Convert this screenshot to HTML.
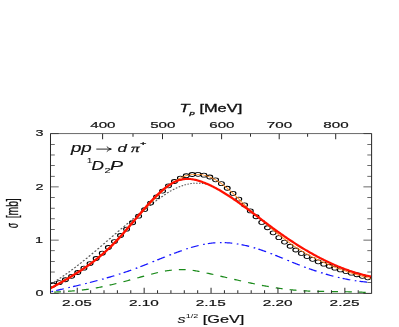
<!DOCTYPE html><html><head><meta charset="utf-8"><style>html,body{margin:0;padding:0;background:#fff;width:399px;height:327px;overflow:hidden}</style></head><body><svg width="399" height="327" viewBox="0 0 399 327" style="position:absolute;left:0;top:0">
<rect width="399" height="327" fill="#fff"/>
<clipPath id="c"><rect x="34.827586206896555" y="133.3" width="221.44827586206898" height="159.59999999999997"/></clipPath>
<g transform="translate(0,0.4) scale(1.45,1)"><g clip-path="url(#c)" fill="none" transform="translate(0,-0.2)">
<path d="M35.241,283.52 L35.759,283.08 L36.276,282.64 M37.241,281.80 L37.759,281.35 L38.276,280.88 M39.241,280.01 L39.759,279.53 L40.276,279.05 M41.241,278.14 L41.759,277.65 L42.276,277.15 M43.241,276.21 L43.759,275.70 L44.276,275.18 M45.241,274.21 L45.759,273.68 L46.276,273.15 M47.241,272.15 L47.759,271.61 L48.276,271.06 M49.241,270.04 L49.759,269.48 L50.276,268.92 M51.241,267.87 L51.759,267.30 L52.276,266.72 M53.241,265.65 L53.759,265.07 L54.276,264.48 M55.241,263.38 L55.759,262.79 L56.276,262.20 M57.241,261.08 L57.759,260.48 L58.276,259.87 M59.241,258.74 L59.759,258.12 L60.276,257.51 M61.241,256.36 L61.759,255.74 L62.276,255.12 M63.241,253.95 L63.759,253.33 L64.276,252.70 M65.241,251.52 L65.759,250.89 L66.276,250.25 M67.241,249.07 L67.759,248.43 L68.276,247.79 M69.241,246.60 L69.759,245.95 L70.276,245.31 M71.241,244.11 L71.759,243.46 L72.276,242.82 M73.241,241.61 L73.759,240.96 L74.276,240.32 M75.241,239.11 L75.759,238.46 L76.276,237.81 M77.241,236.60 L77.759,235.95 L78.276,235.31 M79.241,234.10 L79.759,233.45 L80.276,232.80 M81.241,231.60 L81.759,230.95 L82.276,230.31 M83.241,229.11 L83.759,228.46 L84.276,227.82 M85.241,226.63 L85.759,225.99 L86.276,225.35 M87.241,224.17 L87.759,223.53 L88.276,222.90 M89.241,221.72 L89.759,221.10 L90.276,220.47 M91.241,219.31 L91.759,218.69 L92.276,218.07 M93.241,216.92 L93.759,216.31 L94.276,215.70 M95.241,214.56 L95.759,213.96 L96.276,213.35 M97.241,212.23 L97.759,211.64 L98.276,211.04 M99.241,209.94 L99.759,209.35 L100.276,208.76 M101.241,207.67 L101.759,207.09 L102.276,206.51 M103.241,205.44 L103.759,204.87 L104.276,204.30 M105.241,203.24 L105.759,202.68 L106.276,202.12 M107.241,201.08 L107.759,200.53 L108.276,199.98 M109.241,198.95 L109.759,198.41 L110.276,197.87 M111.241,196.87 L111.759,196.35 L112.276,195.82 M113.241,194.87 L113.759,194.36 L114.276,193.87 M115.241,192.96 L115.759,192.49 L116.276,192.03 M117.241,191.19 L117.759,190.76 L118.276,190.34 M119.241,189.58 L119.759,189.19 L120.276,188.81 M121.241,188.13 L121.759,187.79 L122.276,187.45 M123.241,186.86 L123.759,186.56 L124.276,186.27 M125.241,185.76 L125.759,185.50 L126.276,185.25 M127.241,184.83 L127.759,184.62 L128.276,184.42 M129.241,184.09 L129.759,183.92 L130.276,183.77 M131.241,183.53 L131.759,183.41 L132.276,183.31 M133.241,183.16 L133.759,183.09 L134.276,183.04 M135.241,182.98 L135.759,182.96 L136.276,182.96 M137.241,182.99 L137.759,183.03 L138.276,183.08 M139.241,183.21 L139.759,183.30 L140.276,183.40 M141.241,183.63 L141.759,183.77 L142.276,183.93" stroke="#5a5a5a" stroke-width="1.0"/>
<circle cx="36.561" cy="284.80" r="2.0" stroke="#000" stroke-width="0.8" fill="none"/>
<circle cx="40.842" cy="282.45" r="2.0" stroke="#000" stroke-width="0.8" fill="none"/>
<circle cx="45.114" cy="279.57" r="2.0" stroke="#000" stroke-width="0.8" fill="none"/>
<circle cx="49.376" cy="276.17" r="2.0" stroke="#000" stroke-width="0.8" fill="none"/>
<circle cx="53.628" cy="272.31" r="2.0" stroke="#000" stroke-width="0.8" fill="none"/>
<circle cx="57.870" cy="268.02" r="2.0" stroke="#000" stroke-width="0.8" fill="none"/>
<circle cx="62.102" cy="263.34" r="2.0" stroke="#000" stroke-width="0.8" fill="none"/>
<circle cx="66.324" cy="258.30" r="2.0" stroke="#000" stroke-width="0.8" fill="none"/>
<circle cx="70.536" cy="252.94" r="2.0" stroke="#000" stroke-width="0.8" fill="none"/>
<circle cx="74.739" cy="247.29" r="2.0" stroke="#000" stroke-width="0.8" fill="none"/>
<circle cx="78.931" cy="241.39" r="2.0" stroke="#000" stroke-width="0.8" fill="none"/>
<circle cx="83.114" cy="235.28" r="2.0" stroke="#000" stroke-width="0.8" fill="none"/>
<circle cx="87.286" cy="228.99" r="2.0" stroke="#000" stroke-width="0.8" fill="none"/>
<circle cx="91.449" cy="222.54" r="2.0" stroke="#000" stroke-width="0.8" fill="none"/>
<circle cx="95.602" cy="215.99" r="2.0" stroke="#000" stroke-width="0.8" fill="none"/>
<circle cx="99.745" cy="209.37" r="2.0" stroke="#000" stroke-width="0.8" fill="none"/>
<circle cx="103.878" cy="202.86" r="2.0" stroke="#000" stroke-width="0.8" fill="none"/>
<circle cx="108.001" cy="196.62" r="2.0" stroke="#000" stroke-width="0.8" fill="none"/>
<circle cx="112.115" cy="190.83" r="2.0" stroke="#000" stroke-width="0.8" fill="none"/>
<circle cx="116.218" cy="185.67" r="2.0" stroke="#000" stroke-width="0.8" fill="none"/>
<circle cx="120.312" cy="181.29" r="2.0" stroke="#000" stroke-width="0.8" fill="none"/>
<circle cx="124.396" cy="177.86" r="2.0" stroke="#000" stroke-width="0.8" fill="none"/>
<circle cx="128.469" cy="175.53" r="2.0" stroke="#000" stroke-width="0.8" fill="none"/>
<circle cx="132.533" cy="174.28" r="2.0" stroke="#000" stroke-width="0.8" fill="none"/>
<circle cx="136.587" cy="174.10" r="2.0" stroke="#000" stroke-width="0.8" fill="none"/>
<circle cx="140.631" cy="174.95" r="2.0" stroke="#000" stroke-width="0.8" fill="none"/>
<circle cx="144.665" cy="176.82" r="2.0" stroke="#000" stroke-width="0.8" fill="none"/>
<circle cx="148.690" cy="179.67" r="2.0" stroke="#000" stroke-width="0.8" fill="none"/>
<circle cx="152.704" cy="183.46" r="2.0" stroke="#000" stroke-width="0.8" fill="none"/>
<circle cx="156.709" cy="188.04" r="2.0" stroke="#000" stroke-width="0.8" fill="none"/>
<circle cx="160.703" cy="193.23" r="2.0" stroke="#000" stroke-width="0.8" fill="none"/>
<circle cx="164.688" cy="198.85" r="2.0" stroke="#000" stroke-width="0.8" fill="none"/>
<circle cx="168.663" cy="204.73" r="2.0" stroke="#000" stroke-width="0.8" fill="none"/>
<circle cx="172.628" cy="210.69" r="2.0" stroke="#000" stroke-width="0.8" fill="none"/>
<circle cx="176.583" cy="216.55" r="2.0" stroke="#000" stroke-width="0.8" fill="none"/>
<circle cx="180.528" cy="222.19" r="2.0" stroke="#000" stroke-width="0.8" fill="none"/>
<circle cx="184.463" cy="227.56" r="2.0" stroke="#000" stroke-width="0.8" fill="none"/>
<circle cx="188.389" cy="232.65" r="2.0" stroke="#000" stroke-width="0.8" fill="none"/>
<circle cx="192.304" cy="237.43" r="2.0" stroke="#000" stroke-width="0.8" fill="none"/>
<circle cx="196.210" cy="241.90" r="2.0" stroke="#000" stroke-width="0.8" fill="none"/>
<circle cx="200.106" cy="246.03" r="2.0" stroke="#000" stroke-width="0.8" fill="none"/>
<circle cx="203.991" cy="249.81" r="2.0" stroke="#000" stroke-width="0.8" fill="none"/>
<circle cx="207.867" cy="253.24" r="2.0" stroke="#000" stroke-width="0.8" fill="none"/>
<circle cx="211.733" cy="256.33" r="2.0" stroke="#000" stroke-width="0.8" fill="none"/>
<circle cx="215.589" cy="259.12" r="2.0" stroke="#000" stroke-width="0.8" fill="none"/>
<circle cx="219.436" cy="261.65" r="2.0" stroke="#000" stroke-width="0.8" fill="none"/>
<circle cx="223.272" cy="263.94" r="2.0" stroke="#000" stroke-width="0.8" fill="none"/>
<circle cx="227.098" cy="266.03" r="2.0" stroke="#000" stroke-width="0.8" fill="none"/>
<circle cx="230.915" cy="267.96" r="2.0" stroke="#000" stroke-width="0.8" fill="none"/>
<circle cx="234.722" cy="269.74" r="2.0" stroke="#000" stroke-width="0.8" fill="none"/>
<circle cx="238.518" cy="271.42" r="2.0" stroke="#000" stroke-width="0.8" fill="none"/>
<circle cx="242.305" cy="273.01" r="2.0" stroke="#000" stroke-width="0.8" fill="none"/>
<circle cx="246.082" cy="274.56" r="2.0" stroke="#000" stroke-width="0.8" fill="none"/>
<circle cx="249.849" cy="276.09" r="2.0" stroke="#000" stroke-width="0.8" fill="none"/>
<circle cx="253.607" cy="277.63" r="2.0" stroke="#000" stroke-width="0.8" fill="none"/>
<path d="M34.828,287.46 L35.383,287.01 L35.938,286.57 L36.493,286.12 L37.048,285.67 L37.603,285.22 L38.158,284.77 L38.713,284.32 L39.268,283.87 L39.823,283.42 L40.378,282.97 L40.933,282.52 L41.488,282.06 L42.043,281.61 L42.598,281.15 L43.153,280.69 L43.708,280.23 L44.263,279.77 L44.818,279.31 L45.373,278.84 L45.928,278.37 L46.483,277.90 L47.038,277.43 L47.593,276.96 L48.148,276.48 L48.703,276.00 L49.258,275.52 L49.813,275.03 L50.368,274.54 L50.923,274.05 L51.478,273.55 L52.033,273.05 L52.588,272.55 L53.143,272.04 L53.698,271.53 L54.253,271.02 L54.808,270.50 L55.363,269.97 L55.918,269.44 L56.473,268.91 L57.028,268.37 L57.583,267.83 L58.138,267.29 L58.693,266.73 L59.248,266.18 L59.803,265.61 L60.358,265.05 L60.913,264.47 L61.468,263.89 L62.023,263.31 L62.578,262.72 L63.133,262.12 L63.688,261.52 L64.243,260.91 L64.798,260.29 L65.353,259.67 L65.908,259.04 L66.463,258.41 L67.018,257.76 L67.573,257.12 L68.128,256.46 L68.683,255.79 L69.238,255.12 L69.793,254.44 L70.348,253.76 L70.903,253.06 L71.458,252.36 L72.013,251.65 L72.568,250.93 L73.123,250.20 L73.678,249.47 L74.233,248.72 L74.788,247.97 L75.343,247.21 L75.898,246.44 L76.453,245.66 L77.008,244.87 L77.563,244.07 L78.118,243.26 L78.673,242.45 L79.228,241.62 L79.783,240.78 L80.338,239.94 L80.893,239.08 L81.448,238.22 L82.003,237.35 L82.558,236.47 L83.113,235.58 L83.668,234.68 L84.223,233.78 L84.778,232.87 L85.333,231.96 L85.888,231.04 L86.443,230.10 L86.998,229.15 L87.553,228.21 L88.108,227.28 L88.663,226.35 L89.218,225.44 L89.773,224.54 L90.328,223.65 L90.883,222.78 L91.438,221.91 L91.993,221.06 L92.548,220.22 L93.103,219.39 L93.658,218.57 L94.213,217.76 L94.768,216.96 L95.323,216.18 L95.878,215.40 L96.433,214.64 L96.989,213.78 L97.544,212.89 L98.099,212.00 L98.654,211.12 L99.209,210.23 L99.764,209.35 L100.319,208.46 L100.874,207.58 L101.429,206.70 L101.984,205.83 L102.539,204.95 L103.094,204.08 L103.649,203.22 L104.204,202.36 L104.759,201.50 L105.314,200.65 L105.869,199.81 L106.424,198.97 L106.979,198.14 L107.534,197.31 L108.089,196.50 L108.644,195.69 L109.199,194.89 L109.754,194.09 L110.309,193.31 L110.864,192.54 L111.419,191.78 L111.974,191.02 L112.529,190.28 L113.084,189.55 L113.639,188.84 L114.194,188.13 L114.749,187.44 L115.304,186.76 L115.859,186.09 L116.414,185.44 L116.969,184.80 L117.524,184.18 L118.079,183.57 L118.634,182.98 L119.189,182.40 L119.744,181.84 L120.299,181.30 L120.854,180.78 L121.409,180.27 L121.964,179.78 L122.519,179.31 L123.074,178.86 L123.629,178.43 L124.184,178.02 L124.739,177.63 L125.294,177.25 L125.849,176.90 L126.404,176.58 L126.959,176.27 L127.514,175.98 L128.069,175.71 L128.624,175.46 L129.179,175.23 L129.734,175.02 L130.289,174.84 L130.844,174.67 L131.399,174.52 L131.954,174.39 L132.509,174.29 L133.064,174.20 L133.619,174.13 L134.174,174.08 L134.729,174.05 L135.284,174.04 L135.839,174.05 L136.394,174.08 L136.949,174.13 L137.504,174.20 L138.059,174.29 L138.614,174.40 L139.169,174.53 L139.724,174.67 L140.279,174.84 L140.834,175.02 L141.389,175.23 L141.944,175.45 L142.499,175.69 L143.054,175.95 L143.609,176.23 L144.164,176.53 L144.719,176.85 L145.274,177.19 L145.829,177.54 L146.384,177.92 L146.939,178.31 L147.494,178.72 L148.049,179.15 L148.604,179.60 L149.159,180.07 L149.714,180.55 L150.269,181.05 L150.824,181.58 L151.379,182.11 L151.934,182.67 L152.489,183.24 L153.044,183.82 L153.599,184.42 L154.154,185.04 L154.709,185.67 L155.264,186.31 L155.819,186.97 L156.374,187.63 L156.929,188.31 L157.484,189.01 L158.039,189.71 L158.594,190.43 L159.149,191.15 L159.704,191.89 L160.259,192.63 L160.814,193.38 L161.369,194.15 L161.924,194.92 L162.479,195.69 L163.034,196.48 L163.589,197.27 L164.144,198.07 L164.700,198.87 L165.255,199.68 L165.810,200.49 L166.365,201.31 L166.920,202.13 L167.475,202.95 L168.030,203.78 L168.585,204.61 L169.140,205.44 L169.695,206.28 L170.250,207.11 L170.805,207.95 L171.360,208.67 L171.915,209.33 L172.470,209.98 L173.025,210.63 L173.580,211.28 L174.135,211.93 L174.690,212.57 L175.245,213.21 L175.800,213.85 L176.355,214.48 L176.910,215.19 L177.465,215.93 L178.020,216.66 L178.575,217.40 L179.130,218.12 L179.685,218.84 L180.240,219.56 L180.795,220.27 L181.350,220.98 L181.905,221.68 L182.460,222.38 L183.015,223.07 L183.570,223.76 L184.125,224.48 L184.680,225.20 L185.235,225.92 L185.790,226.62 L186.345,227.33 L186.900,228.02 L187.455,228.71 L188.010,229.40 L188.565,230.08 L189.120,230.75 L189.675,231.42 L190.230,232.08 L190.785,232.73 L191.340,233.38 L191.895,234.03 L192.450,234.66 L193.005,235.29 L193.560,235.92 L194.115,236.54 L194.670,237.15 L195.225,237.76 L195.780,238.35 L196.335,238.95 L196.890,239.56 L197.445,240.18 L198.000,240.79 L198.555,241.40 L199.110,242.00 L199.665,242.60 L200.220,243.18 L200.775,243.76 L201.330,244.34 L201.885,244.90 L202.440,245.46 L202.995,246.01 L203.550,246.56 L204.105,247.09 L204.660,247.62 L205.215,248.14 L205.770,248.66 L206.325,249.17 L206.880,249.67 L207.435,250.16 L207.990,250.65 L208.545,251.13 L209.100,251.61 L209.655,252.08 L210.210,252.54 L210.765,253.01 L211.320,253.48 L211.875,253.94 L212.430,254.40 L212.985,254.85 L213.540,255.30 L214.095,255.74 L214.650,256.18 L215.205,256.60 L215.760,257.03 L216.315,257.45 L216.870,257.86 L217.425,258.27 L217.980,258.67 L218.535,259.07 L219.090,259.46 L219.645,259.85 L220.200,260.23 L220.755,260.61 L221.310,260.99 L221.865,261.36 L222.420,261.72 L222.975,262.08 L223.530,262.44 L224.085,262.80 L224.640,263.16 L225.195,263.53 L225.750,263.89 L226.305,264.24 L226.860,264.60 L227.415,264.95 L227.970,265.29 L228.525,265.64 L229.080,265.98 L229.635,266.31 L230.190,266.65 L230.745,266.98 L231.300,267.30 L231.856,267.63 L232.411,267.95 L232.966,268.27 L233.521,268.59 L234.076,268.90 L234.631,269.21 L235.186,269.48 L235.741,269.76 L236.296,270.03 L236.851,270.30 L237.406,270.57 L237.961,270.84 L238.516,271.11 L239.071,271.37 L239.626,271.64 L240.181,271.90 L240.736,272.16 L241.291,272.42 L241.846,272.68 L242.401,272.93 L242.956,273.19 L243.511,273.45 L244.066,273.70 L244.621,273.95 L245.176,274.19 L245.731,274.42 L246.286,274.64 L246.841,274.87 L247.396,275.09 L247.951,275.32 L248.506,275.54 L249.061,275.77 L249.616,275.99 L250.171,276.22 L250.726,276.44 L251.281,276.67 L251.836,276.90 L252.391,277.12 L252.946,277.35 L253.501,277.58 L254.056,277.81 L254.611,278.04 L255.166,278.27 L255.721,278.51 L256.276,278.74" stroke="#ff8418" stroke-width="0.7"/>
<path transform="scale(0.8275862068965517,1)" d="M42.083,288.16 L42.754,287.71 L43.425,287.27 L44.095,286.82 L44.766,286.37 L45.437,285.92 L46.107,285.47 L46.778,285.02 L47.448,284.57 L48.119,284.12 L48.790,283.67 L49.460,283.22 L50.131,282.76 L50.802,282.31 L51.472,281.85 L52.143,281.39 L52.813,280.93 L53.484,280.47 L54.155,280.01 L54.825,279.54 L55.496,279.07 L56.167,278.60 L56.837,278.13 L57.508,277.66 L58.179,277.18 L58.849,276.70 L59.520,276.22 L60.190,275.73 L60.861,275.24 L61.532,274.75 L62.202,274.25 L62.873,273.75 L63.544,273.25 L64.214,272.74 L64.885,272.23 L65.556,271.72 L66.226,271.20 L66.897,270.67 L67.567,270.14 L68.238,269.61 L68.909,269.07 L69.579,268.53 L70.250,267.99 L70.921,267.43 L71.591,266.88 L72.262,266.31 L72.933,265.75 L73.603,265.17 L74.274,264.59 L74.944,264.01 L75.615,263.42 L76.286,262.82 L76.956,262.22 L77.627,261.61 L78.298,260.99 L78.968,260.37 L79.639,259.74 L80.310,259.11 L80.980,258.46 L81.651,257.82 L82.321,257.16 L82.992,256.49 L83.663,255.82 L84.333,255.14 L85.004,254.46 L85.675,253.76 L86.345,253.06 L87.016,252.35 L87.687,251.63 L88.357,250.90 L89.028,250.17 L89.698,249.42 L90.369,248.67 L91.040,247.91 L91.710,247.14 L92.381,246.36 L93.052,245.57 L93.722,244.77 L94.393,243.96 L95.063,243.15 L95.734,242.32 L96.405,241.48 L97.075,240.64 L97.746,239.78 L98.417,238.92 L99.087,238.05 L99.758,237.17 L100.429,236.28 L101.099,235.38 L101.770,234.48 L102.440,233.57 L103.111,232.66 L103.782,231.74 L104.452,230.82 L105.123,229.89 L105.794,228.96 L106.464,228.02 L107.135,227.08 L107.806,226.14 L108.476,225.20 L109.147,224.25 L109.817,223.30 L110.488,222.35 L111.159,221.40 L111.829,220.45 L112.500,219.50 L113.171,218.55 L113.841,217.60 L114.512,216.65 L115.183,215.70 L115.853,214.76 L116.524,213.82 L117.194,212.88 L117.865,211.94 L118.536,211.01 L119.206,210.08 L119.877,209.16 L120.548,208.24 L121.218,207.32 L121.889,206.42 L122.560,205.52 L123.230,204.62 L123.901,203.74 L124.571,202.86 L125.242,201.98 L125.913,201.12 L126.583,200.27 L127.254,199.42 L127.925,198.58 L128.595,197.76 L129.266,196.94 L129.937,196.14 L130.607,195.35 L131.278,194.56 L131.948,193.80 L132.619,193.04 L133.290,192.30 L133.960,191.57 L134.631,190.86 L135.302,190.16 L135.972,189.48 L136.643,188.82 L137.313,188.17 L137.984,187.54 L138.655,186.92 L139.325,186.33 L139.996,185.75 L140.667,185.19 L141.337,184.66 L142.008,184.14 L142.679,183.64 L143.349,183.17 L144.020,182.71 L144.690,182.28 L145.361,181.87 L146.032,181.49 L146.702,181.13 L147.373,180.79 L148.044,180.48 L148.714,180.19 L149.385,179.93 L150.056,179.70 L150.726,179.49 L151.397,179.31 L152.067,179.15 L152.738,179.02 L153.409,178.92 L154.079,178.83 L154.750,178.78 L155.421,178.74 L156.091,178.73 L156.762,178.73 L157.433,178.76 L158.103,178.81 L158.774,178.88 L159.444,178.97 L160.115,179.08 L160.786,179.20 L161.456,179.35 L162.127,179.51 L162.798,179.68 L163.468,179.87 L164.139,180.08 L164.810,180.30 L165.480,180.53 L166.151,180.78 L166.821,181.04 L167.492,181.31 L168.163,181.60 L168.833,181.89 L169.504,182.20 L170.175,182.51 L170.845,182.83 L171.516,183.17 L172.187,183.51 L172.857,183.85 L173.528,184.21 L174.198,184.58 L174.869,184.95 L175.540,185.33 L176.210,185.71 L176.881,186.11 L177.552,186.51 L178.222,186.92 L178.893,187.34 L179.563,187.76 L180.234,188.19 L180.905,188.63 L181.575,189.07 L182.246,189.52 L182.917,189.98 L183.587,190.44 L184.258,190.91 L184.929,191.38 L185.599,191.86 L186.270,192.35 L186.940,192.84 L187.611,193.34 L188.282,193.84 L188.952,194.35 L189.623,194.86 L190.294,195.38 L190.964,195.90 L191.635,196.43 L192.306,196.96 L192.976,197.49 L193.647,198.03 L194.317,198.58 L194.988,199.13 L195.659,199.68 L196.329,200.23 L197.000,200.79 L197.671,201.36 L198.341,201.92 L199.012,202.49 L199.683,203.07 L200.353,203.64 L201.024,204.22 L201.694,204.80 L202.365,205.39 L203.036,205.97 L203.706,206.56 L204.377,207.15 L205.048,207.75 L205.718,208.34 L206.389,208.94 L207.060,209.54 L207.730,210.14 L208.401,210.74 L209.071,211.35 L209.742,211.95 L210.413,212.56 L211.083,213.17 L211.754,213.78 L212.425,214.38 L213.095,214.99 L213.766,215.60 L214.437,216.22 L215.107,216.83 L215.778,217.44 L216.448,218.05 L217.119,218.66 L217.790,219.27 L218.460,219.88 L219.131,220.49 L219.802,221.10 L220.472,221.71 L221.143,222.32 L221.813,222.92 L222.484,223.53 L223.155,224.13 L223.825,224.73 L224.496,225.34 L225.167,225.94 L225.837,226.53 L226.508,227.13 L227.179,227.72 L227.849,228.32 L228.520,228.91 L229.190,229.49 L229.861,230.08 L230.532,230.66 L231.202,231.24 L231.873,231.82 L232.544,232.39 L233.214,232.96 L233.885,233.53 L234.556,234.10 L235.226,234.66 L235.897,235.22 L236.567,235.78 L237.238,236.34 L237.909,236.89 L238.579,237.44 L239.250,237.99 L239.921,238.54 L240.591,239.08 L241.262,239.62 L241.933,240.15 L242.603,240.69 L243.274,241.22 L243.944,241.74 L244.615,242.27 L245.286,242.79 L245.956,243.31 L246.627,243.83 L247.298,244.34 L247.968,244.85 L248.639,245.36 L249.310,245.86 L249.980,246.36 L250.651,246.86 L251.321,247.35 L251.992,247.85 L252.663,248.33 L253.333,248.82 L254.004,249.30 L254.675,249.78 L255.345,250.26 L256.016,250.73 L256.687,251.20 L257.357,251.66 L258.028,252.13 L258.698,252.59 L259.369,253.04 L260.040,253.49 L260.710,253.94 L261.381,254.39 L262.052,254.83 L262.722,255.27 L263.393,255.71 L264.063,256.14 L264.734,256.57 L265.405,256.99 L266.075,257.42 L266.746,257.84 L267.417,258.25 L268.087,258.66 L268.758,259.07 L269.429,259.47 L270.099,259.87 L270.770,260.27 L271.440,260.66 L272.111,261.05 L272.782,261.44 L273.452,261.82 L274.123,262.20 L274.794,262.58 L275.464,262.95 L276.135,263.31 L276.806,263.68 L277.476,264.04 L278.147,264.39 L278.817,264.75 L279.488,265.09 L280.159,265.44 L280.829,265.78 L281.500,266.12 L282.171,266.45 L282.841,266.78 L283.512,267.10 L284.183,267.42 L284.853,267.74 L285.524,268.05 L286.194,268.36 L286.865,268.67 L287.536,268.97 L288.206,269.26 L288.877,269.55 L289.548,269.84 L290.218,270.13 L290.889,270.41 L291.560,270.68 L292.230,270.95 L292.901,271.22 L293.571,271.48 L294.242,271.74 L294.913,272.00 L295.583,272.25 L296.254,272.49 L296.925,272.74 L297.595,272.97 L298.266,273.21 L298.937,273.43 L299.607,273.66 L300.278,273.88 L300.948,274.09 L301.619,274.30 L302.290,274.51 L302.960,274.71 L303.631,274.91 L304.302,275.10 L304.972,275.29 L305.643,275.47 L306.313,275.65 L306.984,275.83 L307.655,276.00 L308.325,276.16 L308.996,276.32 L309.667,276.48" stroke="#ff1000" stroke-width="2.1" stroke-linejoin="round"/>
<path d="M35.483,291.38 L36.034,291.20 L36.586,291.02 M38.759,290.30 L39.414,290.09 L40.069,289.87 L40.724,289.65 L41.379,289.44 L42.034,289.22 L42.690,289.00 L43.345,288.78 L44.000,288.57 M47.103,287.53 L47.655,287.34 L48.207,287.16 M50.379,286.42 L51.034,286.20 L51.690,285.97 L52.345,285.75 L53.000,285.52 L53.655,285.30 L54.310,285.07 L54.966,284.84 L55.621,284.61 M58.724,283.50 L59.276,283.31 L59.828,283.11 M62.000,282.31 L62.655,282.07 L63.310,281.82 L63.966,281.57 L64.621,281.33 L65.276,281.08 L65.931,280.83 L66.586,280.57 L67.241,280.32 M70.345,279.09 L70.897,278.87 L71.448,278.64 M73.621,277.75 L74.276,277.47 L74.931,277.20 L75.586,276.92 L76.241,276.64 L76.897,276.35 L77.552,276.07 L78.207,275.78 L78.862,275.49 M81.966,274.08 L82.517,273.82 L83.069,273.56 M85.241,272.52 L85.897,272.21 L86.552,271.88 L87.207,271.56 L87.862,271.23 L88.517,270.90 L89.172,270.57 L89.828,270.23 L90.483,269.89 M93.586,268.25 L94.138,267.95 L94.690,267.65 M96.862,266.45 L97.517,266.08 L98.172,265.72 L98.828,265.35 L99.483,264.98 L100.138,264.60 L100.793,264.23 L101.448,263.86 L102.103,263.48 M105.207,261.69 L105.759,261.37 L106.310,261.05 M108.483,259.79 L109.138,259.41 L109.793,259.03 L110.448,258.65 L111.103,258.27 L111.759,257.89 L112.414,257.51 L113.069,257.14 L113.724,256.76 M116.828,255.00 L117.379,254.69 L117.931,254.38 M120.103,253.18 L120.759,252.83 L121.414,252.47 L122.069,252.12 L122.724,251.77 L123.379,251.42 L124.034,251.08 L124.690,250.74 L125.345,250.40 M128.448,248.87 L129.000,248.60 L129.552,248.34 M131.724,247.36 L132.379,247.07 L133.034,246.80 L133.690,246.52 L134.345,246.26 L135.000,246.00 L135.655,245.75 L136.310,245.51 L136.966,245.27 M140.069,244.26 L140.621,244.10 L141.172,243.95 M143.345,243.41 L144.000,243.27 L144.655,243.14 L145.310,243.02 L145.966,242.91 L146.621,242.81 L147.276,242.72 L147.931,242.64 L148.586,242.57 M151.690,242.40 L152.241,242.39 L152.793,242.39 M154.966,242.45 L155.621,242.49 L156.276,242.54 L156.931,242.60 L157.586,242.67 L158.241,242.74 L158.897,242.83 L159.552,242.92 L160.207,243.03 M163.310,243.63 L163.862,243.76 L164.414,243.89 M166.586,244.47 L167.241,244.66 L167.897,244.85 L168.552,245.06 L169.207,245.27 L169.862,245.49 L170.517,245.72 L171.172,245.95 L171.828,246.19 M174.931,247.42 L175.483,247.66 L176.034,247.90 M178.207,248.88 L178.862,249.19 L179.517,249.50 L180.172,249.82 L180.828,250.15 L181.483,250.48 L182.138,250.81 L182.793,251.15 L183.448,251.50 M186.552,253.19 L187.103,253.50 L187.655,253.81 M189.828,255.06 L190.483,255.44 L191.138,255.82 L191.793,256.21 L192.448,256.60 L193.103,256.98 L193.759,257.37 L194.414,257.76 L195.069,258.16 M198.172,260.01 L198.724,260.34 L199.276,260.67 M201.448,261.96 L202.103,262.34 L202.759,262.73 L203.414,263.11 L204.069,263.49 L204.724,263.86 L205.379,264.24 L206.034,264.61 L206.690,264.98 M209.793,266.69 L210.345,266.98 L210.897,267.28 M213.069,268.42 L213.724,268.75 L214.379,269.09 L215.034,269.42 L215.690,269.74 L216.345,270.07 L217.000,270.39 L217.655,270.71 L218.310,271.02 M221.414,272.46 L221.966,272.71 L222.517,272.96 M224.690,273.90 L225.345,274.17 L226.000,274.45 L226.655,274.71 L227.310,274.98 L227.966,275.24 L228.621,275.50 L229.276,275.75 L229.931,276.00 M233.034,277.12 L233.586,277.31 L234.138,277.49 M236.310,278.20 L236.966,278.40 L237.621,278.60 L238.276,278.79 L238.931,278.98 L239.586,279.17 L240.241,279.35 L240.897,279.53 L241.552,279.70 M244.655,280.44 L245.207,280.57 L245.759,280.68 M247.931,281.11 L248.586,281.23 L249.241,281.35 L249.897,281.46 L250.552,281.56 L251.207,281.66 L251.862,281.75 L252.517,281.84 L253.172,281.92 M256.276,282.24 L256.276,282.24" stroke="#1414ff" stroke-width="1.2"/>
<path d="M37.379,291.91 L38.049,291.86 L38.719,291.80 L39.389,291.75 L40.059,291.70 L40.729,291.64 L41.399,291.59 L42.069,291.53 M46.931,291.09 L47.601,291.02 L48.271,290.95 L48.941,290.87 L49.611,290.80 L50.281,290.72 L50.951,290.64 L51.621,290.55 M56.483,289.84 L57.153,289.73 L57.823,289.61 L58.493,289.49 L59.163,289.36 L59.833,289.23 L60.502,289.10 L61.172,288.96 M66.034,287.80 L66.704,287.63 L67.374,287.45 L68.044,287.26 L68.714,287.07 L69.384,286.88 L70.054,286.69 L70.724,286.49 M75.586,284.95 L76.256,284.73 L76.926,284.50 L77.596,284.27 L78.266,284.04 L78.936,283.80 L79.606,283.57 L80.276,283.33 M85.138,281.53 L85.808,281.27 L86.478,281.02 L87.148,280.76 L87.818,280.50 L88.488,280.24 L89.158,279.98 L89.828,279.72 M94.690,277.79 L95.360,277.52 L96.030,277.25 L96.700,276.98 L97.369,276.71 L98.039,276.45 L98.709,276.18 L99.379,275.91 M104.241,274.02 L104.911,273.77 L105.581,273.52 L106.251,273.28 L106.921,273.04 L107.591,272.81 L108.261,272.58 L108.931,272.35 M113.793,270.91 L114.463,270.74 L115.133,270.58 L115.803,270.43 L116.473,270.28 L117.143,270.15 L117.813,270.02 L118.483,269.91 M123.345,269.38 L124.015,269.36 L124.685,269.35 L125.355,269.35 L126.025,269.36 L126.695,269.39 L127.365,269.43 L128.034,269.48 M132.897,270.20 L133.567,270.33 L134.236,270.48 L134.906,270.64 L135.576,270.80 L136.246,270.97 L136.916,271.14 L137.586,271.32 M142.448,272.78 L143.118,273.00 L143.788,273.21 L144.458,273.43 L145.128,273.65 L145.798,273.87 L146.468,274.09 L147.138,274.31 M152.000,275.94 L152.670,276.17 L153.340,276.40 L154.010,276.62 L154.680,276.85 L155.350,277.08 L156.020,277.30 L156.690,277.53 M161.552,279.17 L162.222,279.40 L162.892,279.62 L163.562,279.84 L164.232,280.07 L164.901,280.29 L165.571,280.51 L166.241,280.73 M171.103,282.30 L171.773,282.51 L172.443,282.72 L173.113,282.93 L173.783,283.14 L174.453,283.34 L175.123,283.55 L175.793,283.75 M180.655,285.16 L181.325,285.35 L181.995,285.53 L182.665,285.72 L183.335,285.90 L184.005,286.08 L184.675,286.25 L185.345,286.42 M190.207,287.60 L190.877,287.75 L191.547,287.90 L192.217,288.05 L192.887,288.19 L193.557,288.33 L194.227,288.46 L194.897,288.60 M199.759,289.46 L200.429,289.56 L201.099,289.66 L201.768,289.76 L202.438,289.85 L203.108,289.94 L203.778,290.02 L204.448,290.10 M209.310,290.59 L209.980,290.65 L210.650,290.70 L211.320,290.75 L211.990,290.79 L212.660,290.84 L213.330,290.88 L214.000,290.92 M218.862,291.14 L219.532,291.16 L220.202,291.18 L220.872,291.20 L221.542,291.22 L222.212,291.24 L222.882,291.26 L223.552,291.27 M228.414,291.36 L229.084,291.37 L229.754,291.38 L230.424,291.39 L231.094,291.40 L231.764,291.41 L232.433,291.42 L233.103,291.43 M237.966,291.51 L238.635,291.53 L239.305,291.55 L239.975,291.56 L240.645,291.58 L241.315,291.60 L241.985,291.62 L242.655,291.65 M247.517,291.87 L248.187,291.91 L248.857,291.95 L249.527,291.99 L250.197,292.04 L250.867,292.09 L251.537,292.14 L252.207,292.19" stroke="#1a8a1a" stroke-width="1.2"/>
</g>
<g stroke="#2a2a2a" stroke-width="0.7" fill="none">
<rect x="34.827586206896555" y="133.3" width="221.44827586206898" height="159.59999999999997"/>
<line x1="44.055" y1="292.9" x2="44.055" y2="289.9"/>
<line x1="53.282" y1="292.9" x2="53.282" y2="287.4"/>
<line x1="62.509" y1="292.9" x2="62.509" y2="289.9"/>
<line x1="71.736" y1="292.9" x2="71.736" y2="289.9"/>
<line x1="80.963" y1="292.9" x2="80.963" y2="289.9"/>
<line x1="90.190" y1="292.9" x2="90.190" y2="289.9"/>
<line x1="99.417" y1="292.9" x2="99.417" y2="287.4"/>
<line x1="108.644" y1="292.9" x2="108.644" y2="289.9"/>
<line x1="117.871" y1="292.9" x2="117.871" y2="289.9"/>
<line x1="127.098" y1="292.9" x2="127.098" y2="289.9"/>
<line x1="136.325" y1="292.9" x2="136.325" y2="289.9"/>
<line x1="145.552" y1="292.9" x2="145.552" y2="287.4"/>
<line x1="154.779" y1="292.9" x2="154.779" y2="289.9"/>
<line x1="164.006" y1="292.9" x2="164.006" y2="289.9"/>
<line x1="173.233" y1="292.9" x2="173.233" y2="289.9"/>
<line x1="182.460" y1="292.9" x2="182.460" y2="289.9"/>
<line x1="191.687" y1="292.9" x2="191.687" y2="287.4"/>
<line x1="200.914" y1="292.9" x2="200.914" y2="289.9"/>
<line x1="210.141" y1="292.9" x2="210.141" y2="289.9"/>
<line x1="219.368" y1="292.9" x2="219.368" y2="289.9"/>
<line x1="228.595" y1="292.9" x2="228.595" y2="289.9"/>
<line x1="237.822" y1="292.9" x2="237.822" y2="287.4"/>
<line x1="247.049" y1="292.9" x2="247.049" y2="289.9"/>
<line x1="70.759" y1="133.3" x2="70.759" y2="138.8"/>
<line x1="91.724" y1="133.3" x2="91.724" y2="136.3"/>
<line x1="112.069" y1="133.3" x2="112.069" y2="138.8"/>
<line x1="132.552" y1="133.3" x2="132.552" y2="136.3"/>
<line x1="152.828" y1="133.3" x2="152.828" y2="138.8"/>
<line x1="172.759" y1="133.3" x2="172.759" y2="136.3"/>
<line x1="192.552" y1="133.3" x2="192.552" y2="138.8"/>
<line x1="212.138" y1="133.3" x2="212.138" y2="136.3"/>
<line x1="231.517" y1="133.3" x2="231.517" y2="138.8"/>
<line x1="34.827586206896555" y1="292.90" x2="40.48275862068966" y2="292.90"/>
<line x1="256.2758620689655" y1="292.90" x2="250.62068965517244" y2="292.90"/>
<line x1="34.827586206896555" y1="282.26" x2="37.793103448275865" y2="282.26"/>
<line x1="256.2758620689655" y1="282.26" x2="253.31034482758622" y2="282.26"/>
<line x1="34.827586206896555" y1="271.62" x2="37.793103448275865" y2="271.62"/>
<line x1="256.2758620689655" y1="271.62" x2="253.31034482758622" y2="271.62"/>
<line x1="34.827586206896555" y1="260.98" x2="37.793103448275865" y2="260.98"/>
<line x1="256.2758620689655" y1="260.98" x2="253.31034482758622" y2="260.98"/>
<line x1="34.827586206896555" y1="250.34" x2="37.793103448275865" y2="250.34"/>
<line x1="256.2758620689655" y1="250.34" x2="253.31034482758622" y2="250.34"/>
<line x1="34.827586206896555" y1="239.70" x2="40.48275862068966" y2="239.70"/>
<line x1="256.2758620689655" y1="239.70" x2="250.62068965517244" y2="239.70"/>
<line x1="34.827586206896555" y1="229.06" x2="37.793103448275865" y2="229.06"/>
<line x1="256.2758620689655" y1="229.06" x2="253.31034482758622" y2="229.06"/>
<line x1="34.827586206896555" y1="218.42" x2="37.793103448275865" y2="218.42"/>
<line x1="256.2758620689655" y1="218.42" x2="253.31034482758622" y2="218.42"/>
<line x1="34.827586206896555" y1="207.78" x2="37.793103448275865" y2="207.78"/>
<line x1="256.2758620689655" y1="207.78" x2="253.31034482758622" y2="207.78"/>
<line x1="34.827586206896555" y1="197.14" x2="37.793103448275865" y2="197.14"/>
<line x1="256.2758620689655" y1="197.14" x2="253.31034482758622" y2="197.14"/>
<line x1="34.827586206896555" y1="186.50" x2="40.48275862068966" y2="186.50"/>
<line x1="256.2758620689655" y1="186.50" x2="250.62068965517244" y2="186.50"/>
<line x1="34.827586206896555" y1="175.86" x2="37.793103448275865" y2="175.86"/>
<line x1="256.2758620689655" y1="175.86" x2="253.31034482758622" y2="175.86"/>
<line x1="34.827586206896555" y1="165.22" x2="37.793103448275865" y2="165.22"/>
<line x1="256.2758620689655" y1="165.22" x2="253.31034482758622" y2="165.22"/>
<line x1="34.827586206896555" y1="154.58" x2="37.793103448275865" y2="154.58"/>
<line x1="256.2758620689655" y1="154.58" x2="253.31034482758622" y2="154.58"/>
<line x1="34.827586206896555" y1="143.94" x2="37.793103448275865" y2="143.94"/>
<line x1="256.2758620689655" y1="143.94" x2="253.31034482758622" y2="143.94"/>
<line x1="34.827586206896555" y1="133.30" x2="40.48275862068966" y2="133.30"/>
<line x1="256.2758620689655" y1="133.30" x2="250.62068965517244" y2="133.30"/>
</g></g>
<g opacity="0.999">
<text transform="translate(76.95833333333336,306.0) scale(1.6,1)" font-family="Liberation Sans, sans-serif" font-size="9.6" text-anchor="middle" fill="#111" stroke="#111" stroke-width="0.2" >2.05</text>
<text transform="translate(143.85416666666703,306.0) scale(1.6,1)" font-family="Liberation Sans, sans-serif" font-size="9.6" text-anchor="middle" fill="#111" stroke="#111" stroke-width="0.2" >2.10</text>
<text transform="translate(210.75000000000017,306.0) scale(1.6,1)" font-family="Liberation Sans, sans-serif" font-size="9.6" text-anchor="middle" fill="#111" stroke="#111" stroke-width="0.2" >2.15</text>
<text transform="translate(277.6458333333339,306.0) scale(1.6,1)" font-family="Liberation Sans, sans-serif" font-size="9.6" text-anchor="middle" fill="#111" stroke="#111" stroke-width="0.2" >2.20</text>
<text transform="translate(344.54166666666697,306.0) scale(1.6,1)" font-family="Liberation Sans, sans-serif" font-size="9.6" text-anchor="middle" fill="#111" stroke="#111" stroke-width="0.2" >2.25</text>
<text transform="translate(102.89999999999999,128.0) scale(1.58,1)" font-family="Liberation Sans, sans-serif" font-size="9.6" text-anchor="middle" fill="#111" stroke="#111" stroke-width="0.2" >400</text>
<text transform="translate(162.8,128.0) scale(1.58,1)" font-family="Liberation Sans, sans-serif" font-size="9.6" text-anchor="middle" fill="#111" stroke="#111" stroke-width="0.2" >500</text>
<text transform="translate(221.9,128.0) scale(1.58,1)" font-family="Liberation Sans, sans-serif" font-size="9.6" text-anchor="middle" fill="#111" stroke="#111" stroke-width="0.2" >600</text>
<text transform="translate(279.5,128.0) scale(1.58,1)" font-family="Liberation Sans, sans-serif" font-size="9.6" text-anchor="middle" fill="#111" stroke="#111" stroke-width="0.2" >700</text>
<text transform="translate(336.0,128.0) scale(1.58,1)" font-family="Liberation Sans, sans-serif" font-size="9.6" text-anchor="middle" fill="#111" stroke="#111" stroke-width="0.2" >800</text>
<text transform="translate(43.6,295.9) scale(1.5,1)" font-family="Liberation Sans, sans-serif" font-size="9.6" text-anchor="end" fill="#111" stroke="#111" stroke-width="0.2" >0</text>
<text transform="translate(42.9,242.7) scale(1.5,1)" font-family="Liberation Sans, sans-serif" font-size="9.6" text-anchor="end" fill="#111" stroke="#111" stroke-width="0.2" >1</text>
<text transform="translate(43.6,189.5) scale(1.5,1)" font-family="Liberation Sans, sans-serif" font-size="9.6" text-anchor="end" fill="#111" stroke="#111" stroke-width="0.2" >2</text>
<text transform="translate(43.6,136.3) scale(1.5,1)" font-family="Liberation Sans, sans-serif" font-size="9.6" text-anchor="end" fill="#111" stroke="#111" stroke-width="0.2" >3</text>
<text transform="translate(179.5,112) scale(1.56,1)" font-family="Liberation Sans, sans-serif" font-size="10.5" text-anchor="start" fill="#111" stroke="#111" stroke-width="0.3" ><tspan font-style="italic">T</tspan><tspan font-style="italic" font-size="6.2" dy="3.0">p</tspan><tspan dy="-3.0"> [MeV]</tspan></text>
<text transform="translate(177.6,322.6) scale(1.55,1)" font-family="Liberation Sans, sans-serif" font-size="10.5" text-anchor="start" fill="#111" stroke="#111" stroke-width="0.2" ><tspan font-style="italic" stroke-width="0.1">s</tspan><tspan font-size="5.8" dy="-4.4" stroke-width="0">1/2</tspan><tspan dy="4.4"> [GeV]</tspan></text>
<text transform="translate(18.2,218.3) rotate(-90) scale(1,1.66)" font-family="Liberation Sans, sans-serif" font-size="10.3" fill="#111" stroke="#111" stroke-width="0.2">[mb]</text>
<text transform="translate(18.2,228.1) rotate(-90) scale(0.8,1.66)" font-family="Liberation Sans, sans-serif" font-size="10.3" fill="#111" stroke="#111" stroke-width="0.2">σ</text>
<text transform="translate(70.9,151.9) scale(1.56,1)" font-family="Liberation Sans, sans-serif" font-size="12" text-anchor="start" fill="#111" stroke="#111" stroke-width="0.18" ><tspan font-style="italic">pp</tspan></text>
<path d="M96.3,149.1 H111 M106.8,146.6 Q108.5,148.6 111.4,149.1 Q108.5,149.6 106.8,151.6" stroke="#111" stroke-width="0.9" fill="none"/>
<text transform="translate(117.6,151.8) scale(1.45,1)" font-family="Liberation Sans, sans-serif" font-size="11.6" text-anchor="start" fill="#111" stroke="#111" stroke-width="0.18" ><tspan font-style="italic">d</tspan></text>
<text transform="translate(130.3,152.0) scale(1.5,1) skewX(-10)" font-family="Liberation Serif, serif" font-size="11.5" fill="#111" stroke="#111" stroke-width="0.28">π</text>
<text transform="translate(140.0,145.0) scale(2.2,1)" font-family="Liberation Sans, sans-serif" font-size="5" text-anchor="start" fill="#111" stroke="#111" stroke-width="0.25" >+</text>
<text transform="translate(87.0,163.3) scale(1.3,1)" font-family="Liberation Sans, sans-serif" font-size="7.2" text-anchor="start" fill="#111" stroke="#111" stroke-width="0.1" >1</text>
<text transform="translate(91.6,169.8) scale(1.42,1)" font-family="Liberation Sans, sans-serif" font-size="12.1" text-anchor="start" fill="#111" stroke="#111" stroke-width="0.18" ><tspan font-style="italic">D</tspan></text>
<text transform="translate(104.4,172.6) scale(1.45,1)" font-family="Liberation Sans, sans-serif" font-size="7.5" text-anchor="start" fill="#111" stroke="#111" stroke-width="0.1" >2</text>
<text transform="translate(109.9,169.8) scale(1.62,1)" font-family="Liberation Sans, sans-serif" font-size="12.1" text-anchor="start" fill="#111" stroke="#111" stroke-width="0.18" ><tspan font-style="italic">P</tspan></text>
</g>
</svg></body></html>
